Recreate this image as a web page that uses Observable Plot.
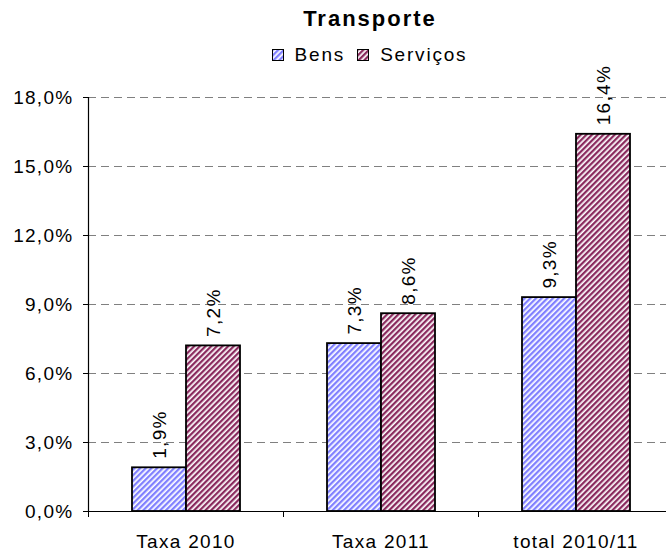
<!DOCTYPE html>
<html>
<head>
<meta charset="utf-8">
<script src="https://cdn.jsdelivr.net/npm/d3@7"></script>
<script src="https://cdn.jsdelivr.net/npm/@observablehq/plot@0.6"></script>
<style>
  html, body { margin: 0; padding: 0; background: white; overflow: hidden; }
  #wrap { position: relative; width: 666px; height: 552px; font-family: "Liberation Sans", Arial, sans-serif; color: black; }
  #title { position: absolute; left: 270px; width: 200px; top: 8px; text-align: center; font-weight: bold; font-size: 22px; line-height: 22px; letter-spacing: 2px; }
  #legend { position: absolute; left: 0; width: 739px; top: 45px; display: flex; justify-content: center; align-items: center; font-size: 19px; line-height: 19px; letter-spacing: 1.8px; }
  #legend .item { display: flex; align-items: center; }
  #legend .item + .item { margin-left: 12px; }
  #legend svg { margin-right: 11px; display: block; }
  #chart { position: absolute; left: 0; top: 75px; }
</style>
</head>
<body>
<svg width="0" height="0" style="position:absolute">
  <defs>
    <pattern id="pBens" patternUnits="userSpaceOnUse" width="4" height="4" patternTransform="rotate(45)">
      <rect width="4" height="4" fill="white"/>
      <rect width="2.3" height="4" fill="#8080ff"/>
    </pattern>
    <pattern id="pServ" patternUnits="userSpaceOnUse" width="4" height="4" patternTransform="rotate(45)">
      <rect width="4" height="4" fill="white"/>
      <rect width="2.3" height="4" fill="#8a2a5e"/>
    </pattern>
  </defs>
</svg>
<div id="wrap">
  <div id="title">Transporte</div>
  <div id="legend"></div>
  <div id="chart"></div>
</div>
<script>
const categories = ["Taxa 2010", "Taxa 2011", "total 2010/11"];
const series = ["Bens", "Serviços"];
const bens = [1.9, 7.3, 9.3];
const servicos = [7.2, 8.6, 16.4];
const yTicks = [0, 3, 6, 9, 12, 15, 18];
const patterns = ["url(#pBens)", "url(#pServ)"];

const data = [];
categories.forEach((c, i) => {
  data.push({cat: c, series: series[0], value: bens[i]});
  data.push({cat: c, series: series[1], value: servicos[i]});
});

const fmt = d => d.toFixed(1).replace(".", ",") + "%";

// legend
const legend = document.getElementById("legend");
series.forEach((s, i) => {
  const item = document.createElement("div");
  item.className = "item";
  item.innerHTML = `<svg width="12" height="12"><rect x="0.5" y="0.5" width="11" height="11" fill="${patterns[i]}" stroke="black" stroke-width="1"/></svg><span>${s}</span>`;
  legend.appendChild(item);
});

const chart = Plot.plot({
  width: 666,
  height: 477,
  marginTop: 22,
  marginBottom: 41,
  marginLeft: 88,
  marginRight: -7,
  style: {fontFamily: '"Liberation Sans", Arial, sans-serif', fontSize: "19px", letterSpacing: "1.3px", background: "transparent", color: "black", overflow: "visible"},
  fx: {domain: categories, padding: 0, label: null},
  x: {domain: series, paddingInner: 0, paddingOuter: 0.773, axis: null},
  y: {domain: [0, 18], axis: null},
  color: {domain: series, range: patterns},
  marks: [
    Plot.gridY(yTicks.filter(t => t > 0), {stroke: "#808080", strokeOpacity: 1, strokeDasharray: "8,5"}),
    Plot.barY(data, {fx: "cat", x: "series", y: "value", fill: "series", stroke: "black", strokeWidth: 1.8}),
    Plot.text(data, {fx: "cat", x: "series", y: "value", text: d => fmt(d.value), rotate: -90, textAnchor: "start", lineAnchor: "middle", dy: -9, fill: "black"}),
    Plot.ruleY([0], {stroke: "black", strokeWidth: 1.2}),
    Plot.frame({anchor: "left", facetAnchor: "left", stroke: "black", strokeWidth: 1.2}),
    Plot.axisY({ticks: yTicks, tickSize: 5, tickPadding: 10, tickFormat: fmt, facetAnchor: "left", label: null}),
    Plot.axisFx({anchor: "bottom", tickSize: 0, tickPadding: 23, label: null}),
    Plot.axisFx({anchor: "bottom", tickSize: 6, text: null, label: null, dx: -97.5})
  ]
});
document.getElementById("chart").appendChild(chart);
</script>
</body>
</html>
